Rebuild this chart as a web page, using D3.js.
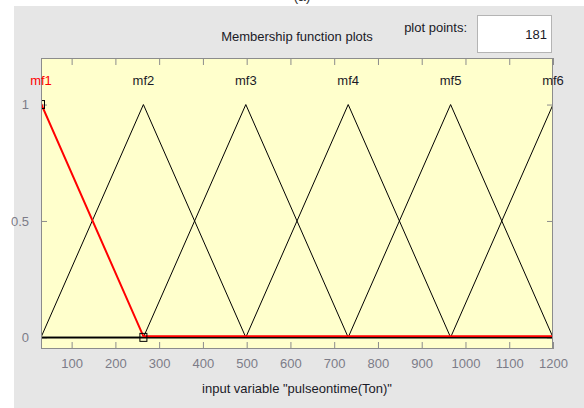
<!DOCTYPE html>
<html><head><meta charset="utf-8">
<script src="https://cdn.jsdelivr.net/npm/d3@7"></script>
<style>html,body{margin:0;padding:0;background:#fff;}svg{display:block;font-family:"Liberation Sans",Arial,sans-serif;}</style>
</head><body>
<script>
// ---- data ----
const xDomain = [30, 1200];
const yDomain = [-0.05, 1.2];
const mfNames = ["mf1", "mf2", "mf3", "mf4", "mf5", "mf6"];
const mfA = [-204, 30, 264, 498, 732, 966];
const mfB = [30, 264, 498, 732, 966, 1200];
const mfC = [264, 498, 732, 966, 1200, 1434];
const selectedMf = "mf1";
const xTicks = [100, 200, 300, 400, 500, 600, 700, 800, 900, 1000, 1100, 1200];
const yTicks = [0, 0.5, 1];
const yTickLabels = ["0", "0.5", "1"];
const plotPoints = "181";
const xLabel = 'input variable "pulseontime(Ton)"';
const title = "Membership function plots";

const W = 584, H = 408;
const L = 41, R = 553, T = 58, B = 349;

const svg = d3.select("body").append("svg").attr("width", W).attr("height", H);

// panel
svg.append("rect").attr("x", 14).attr("y", 6).attr("width", W - 14).attr("height", H - 6).attr("fill", "#e6e6e6");
svg.append("text").attr("x", 302).attr("y", 1).attr("text-anchor", "middle").attr("font-size", 14).attr("fill", "#333").text("(a)");

const x = d3.scaleLinear().domain(xDomain).range([L, R]);
const y = d3.scaleLinear().domain(yDomain).range([B, T]);

svg.append("rect").attr("x", L).attr("y", T).attr("width", R - L).attr("height", B - T).attr("fill", "#ffffcc");

svg.append("defs").append("clipPath").attr("id", "clip")
  .append("rect").attr("x", L).attr("y", T).attr("width", R - L).attr("height", B - T);

// axes (ticks inward, gray)
const gx = svg.append("g").attr("transform", `translate(0,${B})`)
  .call(d3.axisBottom(x).tickValues(xTicks).tickSizeInner(-7).tickSizeOuter(0).tickPadding(16).tickFormat(d3.format("d")));
const gxt = svg.append("g").attr("transform", `translate(0,${T})`)
  .call(d3.axisTop(x).tickValues(xTicks).tickSizeInner(-7).tickSizeOuter(0).tickFormat(""));
const gy = svg.append("g").attr("transform", `translate(${L},0)`)
  .call(d3.axisLeft(y).tickValues(yTicks).tickSizeInner(-6).tickSizeOuter(0).tickPadding(12).tickFormat((d, i) => yTickLabels[i]));
const gyr = svg.append("g").attr("transform", `translate(${R},0)`)
  .call(d3.axisRight(y).tickValues(yTicks).tickSizeInner(-6).tickSizeOuter(0).tickFormat(""));
[gx, gxt, gy, gyr].forEach(g => {
  g.select(".domain").remove();
  g.selectAll(".tick line").attr("stroke", "#8c8c8c");
  g.selectAll(".tick text").attr("fill", "#7c7c88").attr("font-size", 13).attr("font-family", '"Liberation Sans",Arial,sans-serif');
});
gx.selectAll(".tick text").attr("dy", "0.2em");

// membership functions
const line = d3.line().x(d => x(d[0])).y(d => y(d[1]));
const mfs = mfNames.map((n, i) => {
  const pts = [];
  if (mfA[i] > xDomain[0]) pts.push([xDomain[0], 0]);
  pts.push([mfA[i], 0], [mfB[i], 1], [mfC[i], 0]);
  if (mfC[i] < xDomain[1]) pts.push([xDomain[1], 0]);
  return { name: n, pts, peak: mfB[i], a: mfA[i], b: mfB[i], c: mfC[i] };
});
const gl = svg.append("g").attr("clip-path", "url(#clip)");
gl.selectAll("path.mf").data(mfs.filter(m => m.name !== selectedMf)).join("path")
  .attr("class", "mf").attr("d", d => line(d.pts)).attr("fill", "none").attr("stroke", "#000").attr("stroke-width", 1);
const sel = mfs.find(m => m.name === selectedMf);
gl.append("path").attr("d", line(sel.pts)).attr("transform", "translate(0,-1)")
  .attr("fill", "none").attr("stroke", "#ff0000").attr("stroke-width", 2);
// black zero line on top of red
gl.append("line").attr("x1", L).attr("x2", R).attr("y1", y(0) + 0.5).attr("y2", y(0) + 0.5).attr("stroke", "#000").attr("stroke-width", 1.2);
// vertex handles
const handles = [[sel.b, 1], [sel.c, 0]];
gl.selectAll("rect.h").data(handles).join("rect").attr("class", "h")
  .attr("x", d => x(d[0]) - 3.5).attr("y", d => y(d[1]) - 4).attr("width", 7).attr("height", 8)
  .attr("fill", "none").attr("stroke", "#000").attr("stroke-width", 1);

// plot border
svg.append("rect").attr("x", L + 0.5).attr("y", T + 0.5).attr("width", R - L - 1).attr("height", B - T - 1)
  .attr("fill", "none").attr("stroke", "#8c8c8c").attr("stroke-width", 1);

// mf labels
svg.selectAll("text.mfl").data(mfs).join("text").attr("class", "mfl")
  .attr("x", d => x(d.peak)).attr("y", 85).attr("text-anchor", "middle").attr("font-size", 13)
  .attr("fill", d => d.name === selectedMf ? "#ff0000" : "#1a1a26").text(d => d.name);

// titles
svg.append("text").attr("x", (L + R) / 2).attr("y", 41).attr("text-anchor", "middle").attr("font-size", 13).attr("fill", "#1a1a26").text(title);
svg.append("text").attr("x", (L + R) / 2).attr("y", 393).attr("text-anchor", "middle").attr("font-size", 13).attr("fill", "#1a1a26").text(xLabel);
svg.append("text").attr("x", 467).attr("y", 32).attr("text-anchor", "end").attr("font-size", 13).attr("fill", "#1a1a26").text("plot points:");
svg.append("rect").attr("x", 477.5).attr("y", 15.5).attr("width", 74).attr("height", 37).attr("fill", "#fff").attr("stroke", "#b4b4b4");
svg.append("text").attr("x", 547).attr("y", 39).attr("text-anchor", "end").attr("font-size", 13).attr("fill", "#1a1a26").text(plotPoints);
</script>
</body></html>
